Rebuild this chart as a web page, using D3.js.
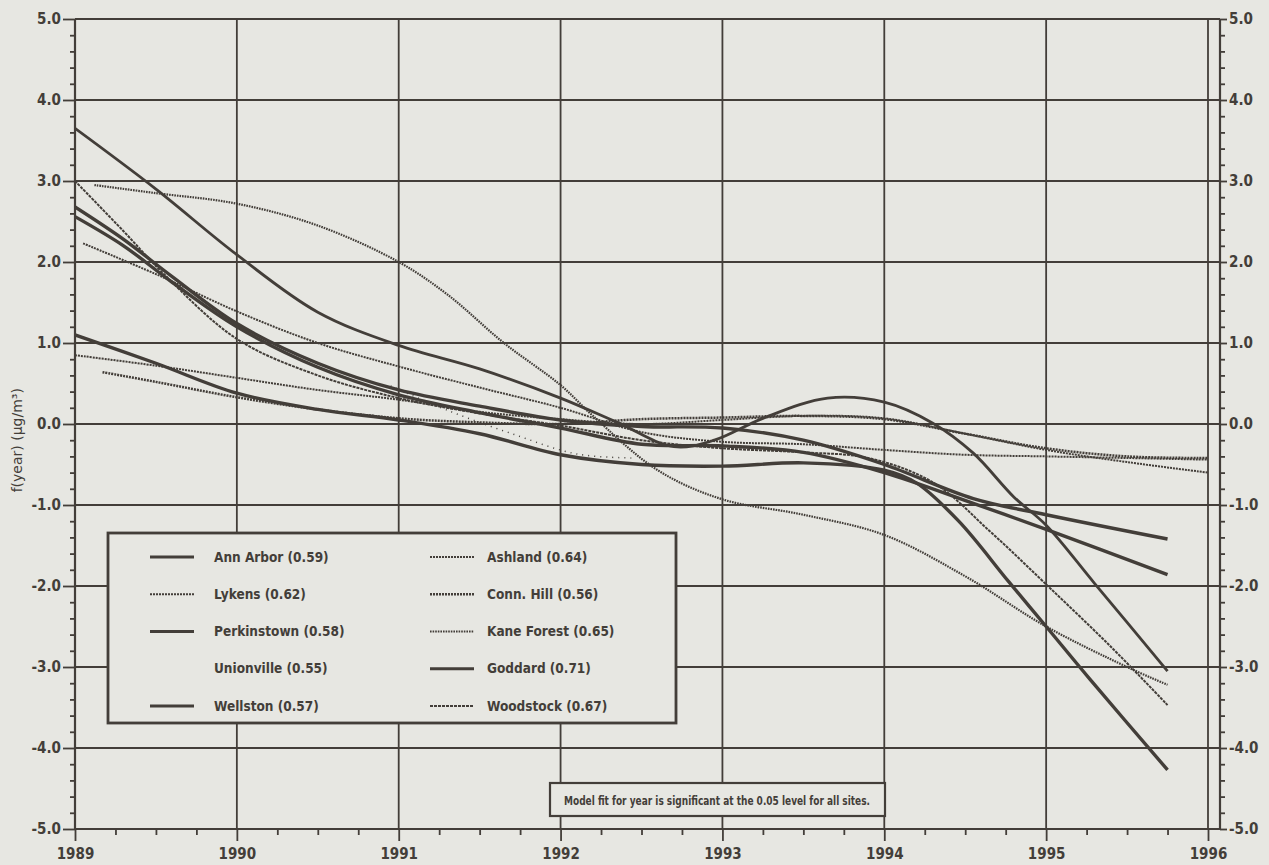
<!DOCTYPE html>
<html>
<head>
<meta charset="utf-8">
<script src="https://cdn.jsdelivr.net/npm/d3@7"></script>
<style>
  body { margin: 0; background: #e7e7e2; }
  svg { display: block; }
</style>
</head>
<body>
<svg id="chart" width="1269" height="865"></svg>
<script>
'use strict';

// legend order, with the fit value shown in brackets
const sites = ["Ann Arbor", "Lykens", "Perkinstown", "Unionville", "Wellston",
               "Ashland", "Conn. Hill", "Kane Forest", "Goddard", "Woodstock"];
const fitR = [0.59, 0.62, 0.58, 0.55, 0.57, 0.64, 0.56, 0.65, 0.71, 0.67];

const yearTicks = [1989, 1990, 1991, 1992, 1993, 1994, 1995, 1996];
const valueTicks = [5, 4, 3, 2, 1, 0, -1, -2, -3, -4, -5];

// f(year), [year, value]
const annArbor = [[1989,2.68],[1989.3,2.28],[1989.6,1.82],[1990,1.24],[1990.5,0.75],[1991,0.42],[1991.5,0.22],
  [1992,0.05],[1992.5,-0.03],[1993,-0.05],[1993.5,-0.2],[1994,-0.5],[1994.55,-0.92],[1995,-1.12],[1995.75,-1.42]];
const lykens = [[1989.05,2.23],[1989.5,1.85],[1990,1.39],[1990.5,1.0],[1991,0.71],[1991.5,0.45],[1992,0.2],
  [1992.5,-0.1],[1993,-0.22],[1993.5,-0.25],[1994,-0.32],[1994.5,-0.38],[1995,-0.4],[1995.5,-0.42],[1996,-0.44]];
const perkinstown = [[1989,2.56],[1989.3,2.2],[1989.6,1.75],[1990,1.2],[1990.5,0.7],[1991,0.36],[1991.5,0.14],
  [1992,-0.05],[1992.5,-0.25],[1993,-0.27],[1993.5,-0.35],[1994,-0.6],[1994.55,-0.98],[1995,-1.3],[1995.75,-1.86]];
const unionville = [[1990.95,0.47],[1991.3,0.17],[1991.7,-0.12],[1992.1,-0.37],[1992.45,-0.42]];
const wellston = [[1989,1.1],[1989.5,0.75],[1990,0.38],[1990.5,0.18],[1991,0.05],[1991.5,-0.12],[1992,-0.38],
  [1992.5,-0.5],[1993,-0.52],[1993.5,-0.48],[1994,-0.57],[1994.2,-0.73],[1994.46,-1.2],[1994.77,-1.95],
  [1995,-2.5],[1995.27,-3.15],[1995.75,-4.27]];
const ashland = [[1989,0.85],[1989.5,0.72],[1990,0.57],[1990.5,0.42],[1991,0.3],[1991.5,0.15],[1992,0.06],
  [1992.5,0.0],[1993,0.05],[1993.5,0.1],[1994,0.07],[1994.5,-0.12],[1995,-0.32],[1995.5,-0.47],[1996,-0.6]];
const connHill = [[1989.17,0.64],[1989.5,0.52],[1990,0.33],[1990.5,0.18],[1991,0.07],[1991.5,0.02],[1992,0.0],
  [1992.5,0.06],[1993,0.08],[1993.5,0.1],[1994,0.06],[1994.5,-0.12],[1995,-0.3],[1995.5,-0.4],[1996,-0.42]];
const kaneForest = [[1989.12,2.95],[1989.5,2.85],[1990,2.72],[1990.5,2.45],[1991,2.0],[1991.3,1.6],[1991.65,1.0],
  [1992,0.48],[1992.2,0.1],[1992.6,-0.57],[1993,-0.93],[1993.5,-1.12],[1994,-1.37],[1994.5,-1.88],[1995,-2.5],
  [1995.5,-3.0],[1995.75,-3.22]];
const goddard = [[1989,3.65],[1989.5,2.9],[1990,2.09],[1990.5,1.38],[1991,0.97],[1991.5,0.68],[1992,0.32],
  [1992.35,0.02],[1992.7,-0.28],[1992.95,-0.2],[1993.25,0.07],[1993.65,0.32],[1994,0.27],[1994.3,0.01],
  [1994.55,-0.36],[1994.8,-0.9],[1995,-1.25],[1995.3,-1.97],[1995.75,-3.05]];
const woodstock = [[1989,3.0],[1989.3,2.38],[1989.55,1.85],[1990,1.05],[1990.5,0.6],[1991,0.32],[1991.5,0.13],
  [1992,-0.02],[1992.5,-0.2],[1993,-0.3],[1993.5,-0.35],[1993.9,-0.42],[1994.3,-0.72],[1994.65,-1.32],
  [1995,-1.98],[1995.4,-2.75],[1995.75,-3.47]];

const curves = [annArbor, lykens, perkinstown, unionville, wellston,
                ashland, connHill, kaneForest, goddard, woodstock];

// line look per site (legend order)
const lineStyle = [
  {w: 3.4, dash: null},        // Ann Arbor
  {w: 2, dash: "2,1"},         // Lykens
  {w: 3.4, dash: null},        // Perkinstown
  {w: 1.5, dash: "1,5"},       // Unionville (barely shows)
  {w: 3.4, dash: null},        // Wellston
  {w: 2, dash: "2,1"},         // Ashland
  {w: 2.5, dash: "2,1"},       // Conn. Hill
  {w: 2.2, dash: "1.6,1"},     // Kane Forest
  {w: 2.8, dash: null},        // Goddard
  {w: 2, dash: "3,1"}          // Woodstock
];

const ink = "#433e39";
const paper = "#e7e7e2";
const boldFont = "'DejaVu Sans Condensed', 'DejaVu Sans', sans-serif";

const svg = d3.select("#chart");

const x = d3.scaleLinear().domain([1989, 1996]).range([75, 1208]);
const y = d3.scaleLinear().domain([-5, 5]).range([829, 19]);
const plotLeft = x(1989), plotRight = x(1996) + 12;
const plotTop = y(5), plotBottom = y(-5);

// ---------- grid ----------
const grid = svg.append("g").attr("stroke", ink).attr("stroke-width", 1.8);
grid.selectAll("line.h").data(valueTicks).enter().append("line")
  .attr("x1", plotLeft).attr("x2", plotRight)
  .attr("y1", d => y(d)).attr("y2", d => y(d));
grid.selectAll("line.v").data(yearTicks.slice(1)).enter().append("line")
  .attr("x1", d => x(d)).attr("x2", d => x(d))
  .attr("y1", plotTop).attr("y2", plotBottom);
// frame sides
grid.append("line").attr("x1", plotLeft).attr("x2", plotLeft).attr("y1", plotTop).attr("y2", plotBottom).attr("stroke-width", 2.2);
grid.append("line").attr("x1", plotRight).attr("x2", plotRight).attr("y1", plotTop).attr("y2", plotBottom).attr("stroke-width", 2.2);
grid.append("line").attr("x1", plotLeft).attr("x2", plotRight).attr("y1", plotBottom).attr("y2", plotBottom).attr("stroke-width", 2.2);

// ---------- axes ----------
const minorY = d3.range(-50, 51, 2).map(d => d / 10).filter(d => Math.abs(d % 1) > 1e-6);
const minorX = d3.range(1989 * 4, 1996 * 4 + 1).map(d => d / 4).filter(d => d % 1 !== 0);

function styleAxis(g) {
  g.select(".domain").remove();
  g.selectAll(".tick line").attr("stroke", ink).attr("stroke-width", 1.8);
  g.selectAll(".tick text").attr("fill", ink)
    .attr("font-family", boldFont).attr("font-weight", "bold").attr("font-size", 15);
}
const fmt = d => d3.format(".1f")(d).replace("−", "-");

svg.append("g").attr("transform", `translate(${plotLeft},0)`)
  .call(d3.axisLeft(y).tickValues(valueTicks).tickSize(12).tickPadding(2).tickFormat(fmt))
  .call(styleAxis);
svg.append("g").attr("transform", `translate(${plotLeft},0)`)
  .call(d3.axisLeft(y).tickValues(minorY).tickSize(5).tickFormat(""))
  .call(styleAxis);

svg.append("g").attr("transform", `translate(${plotRight},0)`)
  .call(d3.axisRight(y).tickValues(valueTicks).tickSize(7).tickPadding(2).tickFormat(fmt))
  .call(styleAxis);
svg.append("g").attr("transform", `translate(${plotRight},0)`)
  .call(d3.axisRight(y).tickValues(minorY).tickSize(5).tickFormat(""))
  .call(styleAxis);

svg.append("g").attr("transform", `translate(0,${plotBottom})`)
  .call(d3.axisBottom(x).tickValues(yearTicks).tickSize(12).tickPadding(7).tickFormat(d3.format("d")))
  .call(styleAxis);
svg.append("g").attr("transform", `translate(0,${plotBottom})`)
  .call(d3.axisBottom(x).tickValues(minorX).tickSize(6).tickFormat(""))
  .call(styleAxis);

svg.append("text")
  .attr("transform", `translate(22,${y(-0.2)}) rotate(-90)`)
  .attr("text-anchor", "middle")
  .attr("font-family", "'DejaVu Sans', sans-serif").attr("font-size", 14)
  .attr("fill", ink)
  .text("f(year) (µg/m³)");

// ---------- curves ----------
svg.append("clipPath").attr("id", "plot-clip").append("rect")
  .attr("x", plotLeft).attr("y", plotTop).attr("width", plotRight - plotLeft).attr("height", plotBottom - plotTop);

const line = d3.line()
  .x(d => x(d[0])).y(d => y(d[1]))
  .curve(d3.curveCatmullRom.alpha(0.5));

svg.append("g").attr("clip-path", "url(#plot-clip)")
  .selectAll("path").data(curves).enter().append("path")
  .attr("d", line)
  .attr("fill", "none")
  .attr("stroke", ink)
  .attr("stroke-width", (d, i) => lineStyle[i].w)
  .attr("stroke-dasharray", (d, i) => lineStyle[i].dash);

// ---------- legend ----------
const legend = svg.append("g");
legend.append("rect")
  .attr("x", 108).attr("y", 533).attr("width", 568).attr("height", 190)
  .attr("fill", paper).attr("stroke", ink).attr("stroke-width", 2.8);

const rowY = d3.scaleLinear().domain([0, 4]).range([557, 706]);
const colX = [150, 430];

const items = legend.selectAll("g.item").data(sites).enter().append("g")
  .attr("transform", (d, i) => `translate(${colX[Math.floor(i / 5)]},${rowY(i % 5)})`);
items.filter(d => d !== "Unionville").append("line")
  .attr("x1", 0).attr("x2", 44).attr("y1", 0).attr("y2", 0)
  .attr("stroke", ink)
  .attr("stroke-width", d => Math.min(lineStyle[sites.indexOf(d)].w, 3))
  .attr("stroke-dasharray", d => lineStyle[sites.indexOf(d)].dash);
items.append("text")
  .attr("x", (d, i) => i < 5 ? 64 : 57).attr("dy", "0.35em")
  .attr("font-family", boldFont).attr("font-weight", "bold").attr("font-size", 13.5)
  .attr("fill", ink)
  .text((d, i) => `${d} (${fitR[i].toFixed(2)})`);

// ---------- note ----------
svg.append("rect")
  .attr("x", 550).attr("y", 783).attr("width", 335).attr("height", 33)
  .attr("fill", paper).attr("stroke", ink).attr("stroke-width", 2.2);
svg.append("text")
  .attr("x", 717).attr("y", 800).attr("dy", "0.35em")
  .attr("text-anchor", "middle")
  .attr("font-family", boldFont).attr("font-weight", "bold").attr("font-size", 13)
  .attr("textLength", 306).attr("lengthAdjust", "spacingAndGlyphs")
  .attr("fill", ink)
  .text("Model fit for year is significant at the 0.05 level for all sites.");
</script>
</body>
</html>
